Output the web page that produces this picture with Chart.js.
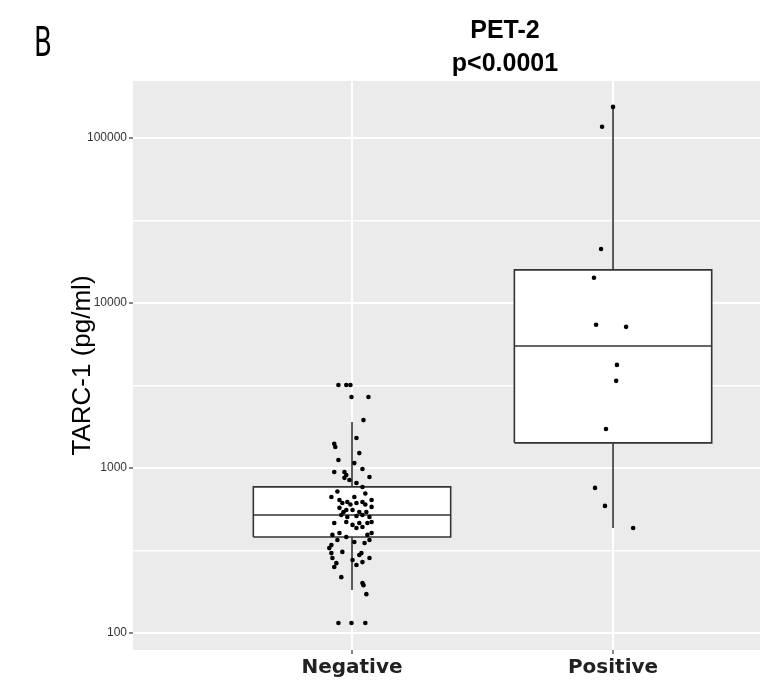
<!DOCTYPE html>
<html><head><meta charset="utf-8">
<script src="https://cdn.jsdelivr.net/npm/chart.js@4/dist/chart.umd.min.js"></script>
<style>html,body{margin:0;padding:0;background:#fff;} #wrap{width:760px;height:682px;position:relative;}</style>
</head><body><div id="wrap"><canvas id="c" width="760" height="682"></canvas></div>
<script>
const categories = ['Negative', 'Positive'];
const tickValues = [100, 1000, 10000, 100000];
const panelLetter = 'B';
const titleLines = ['PET-2', 'p<0.0001'];
const yTitle = 'TARC-1 (pg/ml)';

// whisker low, Q1, median, Q3, whisker high
const negStats = [182, 382, 519, 768, 1900];
const posStats = [433, 1419, 5480, 15850, 154000];

const negValues = [3180, 3180, 3180, 2690, 2690, 1950, 1520, 1400, 1340, 1230, 1117, 1070, 986, 946, 946, 907, 871, 846, 881, 811, 767, 667, 640, 613, 622, 667, 613, 622, 640, 581, 573, 556, 556, 541, 541, 519, 505, 512, 519, 505, 464, 471, 452, 464, 464, 471, 433, 439, 393, 404, 382, 393, 404, 341, 366, 356, 351, 366, 327, 310, 305, 305, 285, 277, 285, 297, 265, 258, 251, 269, 218, 201, 195, 172, 115, 115, 115, 600, 540, 600, 720, 700];
const negJitter = [-0.052, -0.022, -0.006, -0.002, 0.063, 0.044, 0.017, -0.068, -0.064, 0.028, -0.052, 0.009, 0.040, -0.068, -0.029, -0.022, -0.029, -0.010, 0.067, 0.017, 0.040, -0.079, -0.048, -0.037, -0.018, 0.009, 0.017, 0.040, 0.075, 0.075, -0.048, -0.022, 0.002, 0.028, 0.055, -0.041, -0.018, 0.017, 0.040, 0.067, -0.068, -0.022, 0.002, 0.028, 0.059, 0.075, 0.017, 0.040, -0.075, -0.048, -0.022, 0.059, 0.075, -0.079, -0.056, 0.009, 0.048, 0.067, -0.087, -0.037, 0.036, -0.079, -0.075, 0.002, 0.067, 0.028, -0.060, 0.017, -0.068, 0.040, -0.041, 0.040, 0.044, 0.055, -0.052, -0.002, 0.051, -0.006, -0.033, 0.051, -0.056, 0.051];
const posValues = [154000, 116700, 21230, 14190, 7370, 7160, 4210, 3370, 1722, 757, 589, 433];
const posJitter = [0.000, -0.042, -0.046, -0.073, -0.065, 0.050, 0.015, 0.012, -0.027, -0.069, -0.031, 0.077];

const boxHalf = 0.378;
const lineCol = '#333333';

function boxSets(stats, c) {
  const [lo, q1, med, q3, hi] = stats;
  const base = {type: 'scatter', showLine: true, pointRadius: 0, borderColor: lineCol, borderWidth: 1.6, order: 2};
  return [
    Object.assign({}, base, {data: [{x: c, y: q3}, {x: c, y: hi}], order: 3}),
    Object.assign({}, base, {data: [{x: c, y: q1}, {x: c, y: lo}], order: 3}),
    Object.assign({}, base, {data: [{x: c - boxHalf, y: q1}, {x: c - boxHalf, y: q3}, {x: c + boxHalf, y: q3}, {x: c + boxHalf, y: q1}, {x: c - boxHalf, y: q1}], fill: 'shape', backgroundColor: '#ffffff'}),
    Object.assign({}, base, {data: [{x: c - boxHalf, y: med}, {x: c + boxHalf, y: med}], order: 1})
  ];
}

const pointSet = (vals, jit, c) => ({
  type: 'scatter', order: 0, data: vals.map((v, i) => ({x: c + jit[i], y: v})),
  pointRadius: 2.3, pointHoverRadius: 2.3, pointBackgroundColor: '#000', pointBorderWidth: 0, showLine: false
});

const datasets = [
  ...boxSets(negStats, 1), ...boxSets(posStats, 2),
  pointSet(negValues, negJitter, 1), pointSet(posValues, posJitter, 2)
];

const minorValues = tickValues.map(v => v * Math.sqrt(10));
const yMin = 78.9, yMax = 221000;

const decorPlugin = {
  id: 'decor',
  beforeDraw(chart) {
    const a = chart.chartArea, ctx = chart.ctx;
    ctx.save(); ctx.fillStyle = '#EBEBEB';
    ctx.fillRect(a.left, a.top, a.right - a.left, a.bottom - a.top);
    ctx.restore();
  },
  afterDraw(chart) {
    const ctx = chart.ctx;
    ctx.save(); ctx.fillStyle = '#000';
    ctx.save();
    ctx.translate(34, 56); ctx.scale(0.64, 1);
    ctx.font = '41px "DejaVu Sans"';
    ctx.textBaseline = 'alphabetic'; ctx.textAlign = 'left';
    ctx.fillText(panelLetter, 0, 0);
    ctx.restore();
    ctx.font = 'bold 25px "Liberation Sans", Arial, sans-serif';
    ctx.textAlign = 'center'; ctx.textBaseline = 'middle';
    titleLines.forEach((t, i) => ctx.fillText(t, 505, 31 + i * 33));
    ctx.restore();
  }
};

new Chart(document.getElementById('c'), {
  type: 'scatter',
  data: {datasets},
  plugins: [decorPlugin],
  options: {
    responsive: false, animation: false,
    layout: {autoPadding: false, padding: {left: 0, right: 0, top: 81, bottom: 0}},
    plugins: {legend: {display: false}, tooltip: {enabled: false}, title: {display: false}},
    scales: {
      x: {
        type: 'linear', min: 0.161, max: 2.563,
        afterBuildTicks: s => { s.ticks = categories.map((c, i) => ({value: i + 1})); },
        afterFit: s => { s.height = 32; s.paddingRight = 0; s.paddingLeft = 0; },
        ticks: {callback: v => categories[v - 1], color: '#222', padding: 2, maxRotation: 0,
          font: {family: '"DejaVu Sans", sans-serif', size: 20, weight: 'bold'}},
        grid: {color: '#ffffff', lineWidth: 2, tickColor: '#333', tickLength: 4, tickWidth: 1.2},
        border: {display: false}
      },
      y: {
        type: 'logarithmic', min: yMin, max: yMax,
        afterBuildTicks: s => {
          const all = tickValues.concat(minorValues).filter(v => v >= yMin && v <= yMax).sort((a, b) => a - b);
          s.ticks = all.map(v => ({value: v, major: tickValues.includes(v)}));
        },
        afterFit: s => { s.width = 133; },
        ticks: {autoSkip: false, color: '#333', padding: 2,
          callback: v => tickValues.includes(v) ? String(v) : '',
          font: {family: '"Liberation Sans", Arial, sans-serif', size: 12}},
        grid: {color: '#ffffff',
          lineWidth: c => (c.tick && tickValues.includes(c.tick.value)) ? 2 : 1.4,
          tickColor: c => (c.tick && tickValues.includes(c.tick.value)) ? '#333' : 'rgba(0,0,0,0)',
          tickLength: 4, tickWidth: 1.2},
        border: {display: false},
        title: {display: true, text: yTitle, color: '#000', padding: {top: 67, bottom: 0},
          font: {family: '"Liberation Sans", Arial, sans-serif', size: 26}}
      }
    }
  }
});
</script></body></html>
